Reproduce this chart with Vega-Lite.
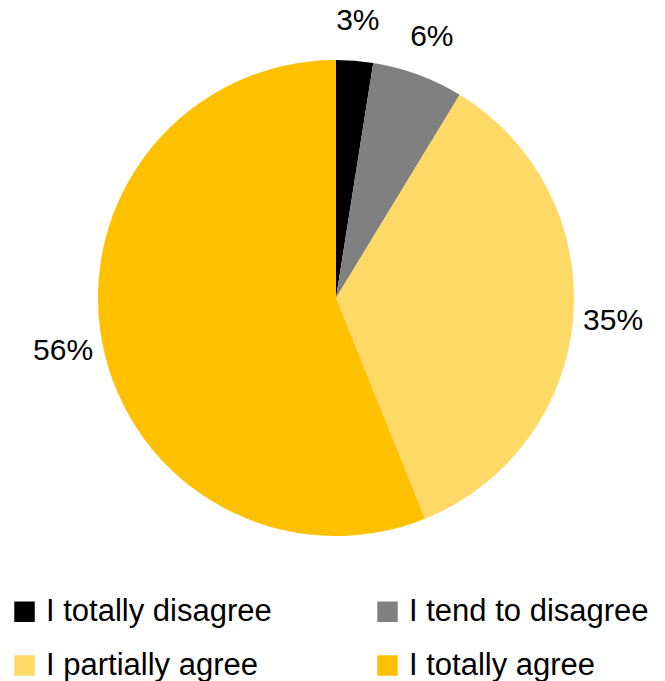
{
  "$schema": "https://vega.github.io/schema/vega-lite/v6.json",
  "width": 658,
  "height": 596,
  "padding": {"left": 7, "top": 0, "right": 0, "bottom": 0},
  "autosize": {"type": "pad"},
  "background": "white",
  "config": {"view": {"stroke": null}, "font": "Liberation Sans"},
  "data": {
    "values": [
      {"answer": "I totally disagree", "value": 2.5, "label": "3%", "rank": 1},
      {"answer": "I tend to disagree", "value": 6.2, "label": "6%", "rank": 2},
      {"answer": "I partially agree", "value": 35.2, "label": "35%", "rank": 3},
      {"answer": "I totally agree", "value": 56.1, "label": "56%", "rank": 4}
    ]
  },
  "encoding": {
    "theta": {"field": "value", "type": "quantitative", "stack": true},
    "order": {"field": "rank", "type": "quantitative"}
  },
  "layer": [
    {
      "mark": {"type": "arc", "outerRadius": 238},
      "encoding": {
        "color": {
          "field": "answer",
          "type": "nominal",
          "scale": {
            "domain": ["I totally disagree", "I tend to disagree", "I partially agree", "I totally agree"],
            "range": ["#000000", "#808080", "#FFD966", "#FFC000"]
          },
          "legend": {
            "title": null,
            "orient": "none",
            "legendX": 2,
            "legendY": 596,
            "padding": 0,
            "direction": "horizontal",
            "columns": 2,
            "columnPadding": 100,
            "rowPadding": 22,
            "symbolType": "square",
            "symbolSize": 420,
            "symbolStrokeWidth": 0,
            "labelFontSize": 31,
            "labelFont": "Liberation Sans",
            "labelColor": "#000000",
            "labelOffset": 6,
            "labelLimit": 400
          }
        }
      }
    },
    {
      "mark": {"type": "text", "radius": 278, "fontSize": 30, "font": "Liberation Sans", "color": "#000000"},
      "encoding": {"text": {"field": "label", "type": "nominal"}}
    }
  ]
}
